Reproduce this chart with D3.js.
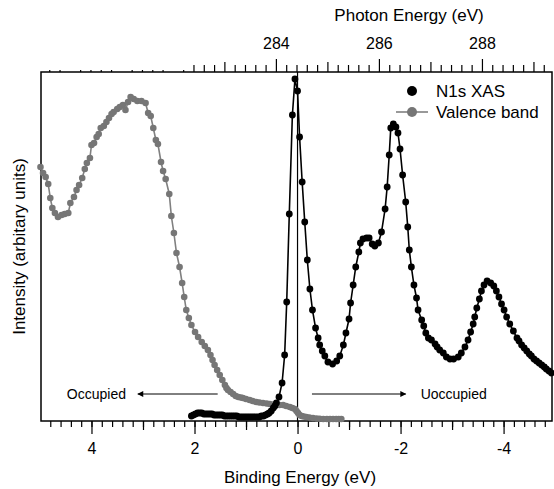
<!DOCTYPE html>
<html>
<head>
<meta charset="utf-8">
<script src="https://cdn.jsdelivr.net/npm/d3@7"></script>
<style>
body { margin: 0; background: #fff; }
text { font-family: "Liberation Sans", Arial, Helvetica, sans-serif; fill: #000; }
</style>
</head>
<body>
<div id="chart"></div>
<script>
// valence band (grey): binding energy (eV) / intensity (arb. units)
var vbEnergy = [4.99,4.94,4.89,4.84,4.80,4.76,4.71,4.65,4.58,4.52,4.45,4.41,4.34,4.29,4.24,4.18,4.13,4.09,4.03,4.00,
    3.95,3.90,3.86,3.82,3.76,3.71,3.66,3.61,3.57,3.50,3.45,3.39,3.34,3.29,3.24,3.18,3.11,3.03,2.95,2.90,
    2.85,2.80,2.75,2.71,2.65,2.61,2.56,2.49,2.45,2.40,2.35,2.29,2.24,2.20,2.16,2.11,2.06,1.99,1.93,1.86,
    1.80,1.74,1.69,1.65,1.61,1.56,1.51,1.46,1.41,1.38,1.35,1.30,1.25,1.20,1.15,1.10,1.06,1.00,0.93,0.87,
    0.80,0.74,0.67,0.60,0.54,0.47,0.41,0.35,0.28,0.22,0.15,0.10,0.05,0.02,-0.01,-0.04,-0.08,-0.12,-0.17,-0.23,
    -0.30,-0.37,-0.43,-0.50,-0.57,-0.63,-0.69,-0.75,-0.80,-0.85];
var vbIntensity = [254,248,244,237,223,213,208,204,206,207,208,218,224,231,236,243,252,258,263,276,
    278,284,287,293,295,299,303,307,309,312,314,316,311,319,324,322,320,320,318,308,
    305,293,281,277,259,250,242,227,205,188,168,154,138,124,111,103,96,89,84,79,
    75,71,66,61,56,51,46,41,36,33,31,29,27,25,24,23.5,23,22,21,20,
    19,18.5,18,17.5,17,16.5,16,16,16,15,14,13,12,10,8,6,5,4.5,4,3.5,
    3,2.5,2.3,2,2,2,2,2,2,2];

// N1s XAS (black), plotted on the binding energy scale
var xasEnergy = [2.06,2.02,1.98,1.94,1.90,1.86,1.82,1.78,1.74,1.70,1.66,1.62,1.58,1.54,1.50,1.46,1.42,1.38,1.34,1.30,
    1.26,1.22,1.18,1.14,1.10,1.06,1.02,0.98,0.94,0.90,0.86,0.82,0.78,0.74,0.70,0.66,0.62,0.58,0.55,0.51,
    0.47,0.44,0.41,0.36,0.30,0.25,0.21,0.16,0.10,0.05,0.00,-0.04,-0.09,-0.14,-0.19,-0.24,-0.29,-0.35,-0.40,-0.43,
    -0.48,-0.53,-0.59,-0.68,-0.76,-0.82,-0.89,-0.94,-1.00,-1.03,-1.08,-1.13,-1.19,-1.22,-1.27,-1.34,-1.39,-1.45,-1.50,-1.57,
    -1.63,-1.70,-1.74,-1.78,-1.81,-1.86,-1.91,-1.95,-1.99,-2.04,-2.10,-2.14,-2.17,-2.21,-2.26,-2.31,-2.34,-2.41,-2.45,-2.49,
    -2.54,-2.60,-2.67,-2.71,-2.76,-2.83,-2.89,-2.96,-3.03,-3.12,-3.18,-3.25,-3.31,-3.36,-3.41,-3.44,-3.48,-3.53,-3.57,-3.62,
    -3.68,-3.75,-3.81,-3.86,-3.91,-3.96,-4.01,-4.06,-4.12,-4.19,-4.26,-4.30,-4.35,-4.40,-4.45,-4.50,-4.54,-4.59,-4.64,-4.69,
    -4.74,-4.79,-4.83,-4.88,-4.93];
var xasIntensity = [5,6,7,8,8,8,7,7,7,7,7,6,6,6,6,6,5,5,5,5,
    5,5,5,4,4,4,4,4,4,4,4,4,4,4,5,5,6,7,8,10,
    13,15,18,24,38,66,119,207,306,342,330,284,239,199,161,132,111,93,83,76,
    70,65,59,57,60,65,76,88,102,118,136,154,169,178,182,183,183,177,175,178,
    189,212,234,266,293,297,294,288,272,246,219,194,171,154,136,123,111,101,95,88,
    83,81,77,74,71,68,64,62,62,64,68,74,81,89,97,104,113,122,130,136,
    140,138,135,130,124,117,111,104,97,90,83,80,76,73,70,67,65,62,60,58,
    56,54,52,50,48];

var bottomTicks = [4, 2, 0, -2, -4];
var topTicks = [284, 286, 288];
var photonAtZero = 284.42;   // photon energy that sits on binding energy 0

var width = 554, height = 489;
var box = {left: 41, right: 552, top: 72, bottom: 421};

var svg = d3.select("#chart").append("svg")
    .attr("width", width)
    .attr("height", height);

var x = d3.scaleLinear().domain([4.98, -4.94]).range([box.left, box.right]);
var xTop = d3.scaleLinear()
    .domain([photonAtZero - 4.98, photonAtZero + 4.94])
    .range([box.left, box.right]);
var y = d3.scaleLinear().domain([0, 349]).range([box.bottom, box.top]);

// bottom axis: minor / half / major ticks
var minorB = d3.range(-48, 50, 2).map(function(d) { return d / 10; });
svg.append("g")
    .attr("transform", "translate(0," + box.bottom + ")")
    .call(d3.axisBottom(x).tickValues(minorB).tickSize(6).tickFormat(""));
svg.append("g")
    .attr("transform", "translate(0," + box.bottom + ")")
    .call(d3.axisBottom(x).tickValues([3, 1, -1, -3]).tickSize(9).tickFormat(""));
svg.append("g")
    .attr("class", "axB")
    .attr("transform", "translate(0," + box.bottom + ")")
    .call(d3.axisBottom(x).tickValues(bottomTicks).tickSize(13).tickPadding(9)
        .tickFormat(function(d) { return String(d); }));

// top axis (photon energy), ticks only start at 282.4
var minorT = d3.range(2796, 2894, 2).map(function(d) { return d / 10; })
    .filter(function(d) { return Math.abs(d - Math.round(d)) > 0.01; });
var tinyT = minorT.filter(function(d) { return d < 282.3; });
var normT = minorT.filter(function(d) { return d > 282.3; });
svg.append("g")
    .attr("transform", "translate(0," + box.top + ")")
    .call(d3.axisTop(xTop).tickValues(tinyT).tickSize(2).tickFormat(""));
svg.append("g")
    .attr("transform", "translate(0," + box.top + ")")
    .call(d3.axisTop(xTop).tickValues(normT).tickSize(7).tickFormat(""));
svg.append("g")
    .attr("transform", "translate(0," + box.top + ")")
    .call(d3.axisTop(xTop).tickValues([283, 285, 287, 289]).tickSize(10).tickFormat(""));
svg.append("g")
    .attr("class", "axT")
    .attr("transform", "translate(0," + box.top + ")")
    .call(d3.axisTop(xTop).tickValues(topTicks).tickSize(13).tickPadding(10)
        .tickFormat(function(d) { return String(d); }));

svg.selectAll(".domain").remove();
svg.selectAll(".tick line").attr("stroke", "#000").attr("stroke-width", 1.2);
svg.selectAll(".axB text, .axT text").style("font-size", "16px");

// frame
svg.append("rect")
    .attr("x", box.left).attr("y", box.top)
    .attr("width", box.right - box.left).attr("height", box.bottom - box.top)
    .attr("fill", "none").attr("stroke", "#000").attr("stroke-width", 1.5);

// binding energy zero
svg.append("line")
    .attr("x1", x(0)).attr("x2", x(0))
    .attr("y1", box.top).attr("y2", box.bottom)
    .attr("stroke", "#000").attr("stroke-width", 1.2);

var vb = vbEnergy.map(function(d, i) { return [d, vbIntensity[i]]; });
var xas = xasEnergy.map(function(d, i) { return [d, xasIntensity[i]]; });

var line = d3.line()
    .x(function(d) { return x(d[0]); })
    .y(function(d) { return y(d[1]); });

svg.append("path").datum(vb)
    .attr("d", line).attr("fill", "none")
    .attr("stroke", "#808080").attr("stroke-width", 1.6);
svg.append("g").selectAll("circle")
    .data(vb).enter().append("circle")
    .attr("cx", function(d) { return x(d[0]); })
    .attr("cy", function(d) { return y(d[1]); })
    .attr("r", 3.3)
    .style("fill", "#767676");

svg.append("path").datum(xas)
    .attr("d", line).attr("fill", "none")
    .attr("stroke", "#000").attr("stroke-width", 1.6);
svg.append("g").selectAll("circle")
    .data(xas).enter().append("circle")
    .attr("cx", function(d) { return x(d[0]); })
    .attr("cy", function(d) { return y(d[1]); })
    .attr("r", 3.4)
    .style("fill", "#000");

// arrows + labels
var defs = svg.append("defs");
defs.append("marker")
    .attr("id", "head")
    .attr("viewBox", "0 0 10 10")
    .attr("refX", 9).attr("refY", 5)
    .attr("markerWidth", 8).attr("markerHeight", 6)
    .attr("markerUnits", "userSpaceOnUse")
    .attr("orient", "auto")
    .append("path").attr("d", "M0,0L10,5L0,10Z").attr("fill", "#000");

svg.append("line")
    .attr("x1", x(1.55)).attr("x2", x(3.1))
    .attr("y1", y(27)).attr("y2", y(27))
    .attr("stroke", "#000").attr("stroke-width", 1)
    .attr("marker-end", "url(#head)");
svg.append("line")
    .attr("x1", x(-0.28)).attr("x2", x(-2.1))
    .attr("y1", y(27)).attr("y2", y(27))
    .attr("stroke", "#000").attr("stroke-width", 1)
    .attr("marker-end", "url(#head)");
svg.append("text")
    .attr("x", x(3.33)).attr("y", y(27) + 5)
    .attr("text-anchor", "end")
    .style("font-size", "14px")
    .text("Occupied");
svg.append("text")
    .attr("x", x(-2.39)).attr("y", y(27) + 5)
    .style("font-size", "14px")
    .text("Uoccupied");

// legend
var lg = svg.append("g").attr("transform", "translate(396,91)");
lg.append("circle").attr("cx", 16).attr("cy", 0).attr("r", 5).style("fill", "#000");
lg.append("text").attr("x", 40).attr("y", 6).style("font-size", "17px").text("N1s XAS");
lg.append("line").attr("x1", 0).attr("x2", 32).attr("y1", 21).attr("y2", 21)
    .attr("stroke", "#808080").attr("stroke-width", 1.6);
lg.append("circle").attr("cx", 16).attr("cy", 21).attr("r", 5).style("fill", "#767676");
lg.append("text").attr("x", 40).attr("y", 27).style("font-size", "17px").text("Valence band");

// axis titles
svg.append("text")
    .attr("x", 300).attr("y", 483)
    .attr("text-anchor", "middle")
    .style("font-size", "17px")
    .text("Binding Energy (eV)");
svg.append("text")
    .attr("x", 409).attr("y", 21)
    .attr("text-anchor", "middle")
    .style("font-size", "17px")
    .text("Photon Energy (eV)");
svg.append("text")
    .attr("transform", "translate(25," + ((box.top + box.bottom) / 2) + ") rotate(-90)")
    .attr("text-anchor", "middle")
    .style("font-size", "17px")
    .text("Intensity (arbitary units)");
</script>
</body>
</html>
